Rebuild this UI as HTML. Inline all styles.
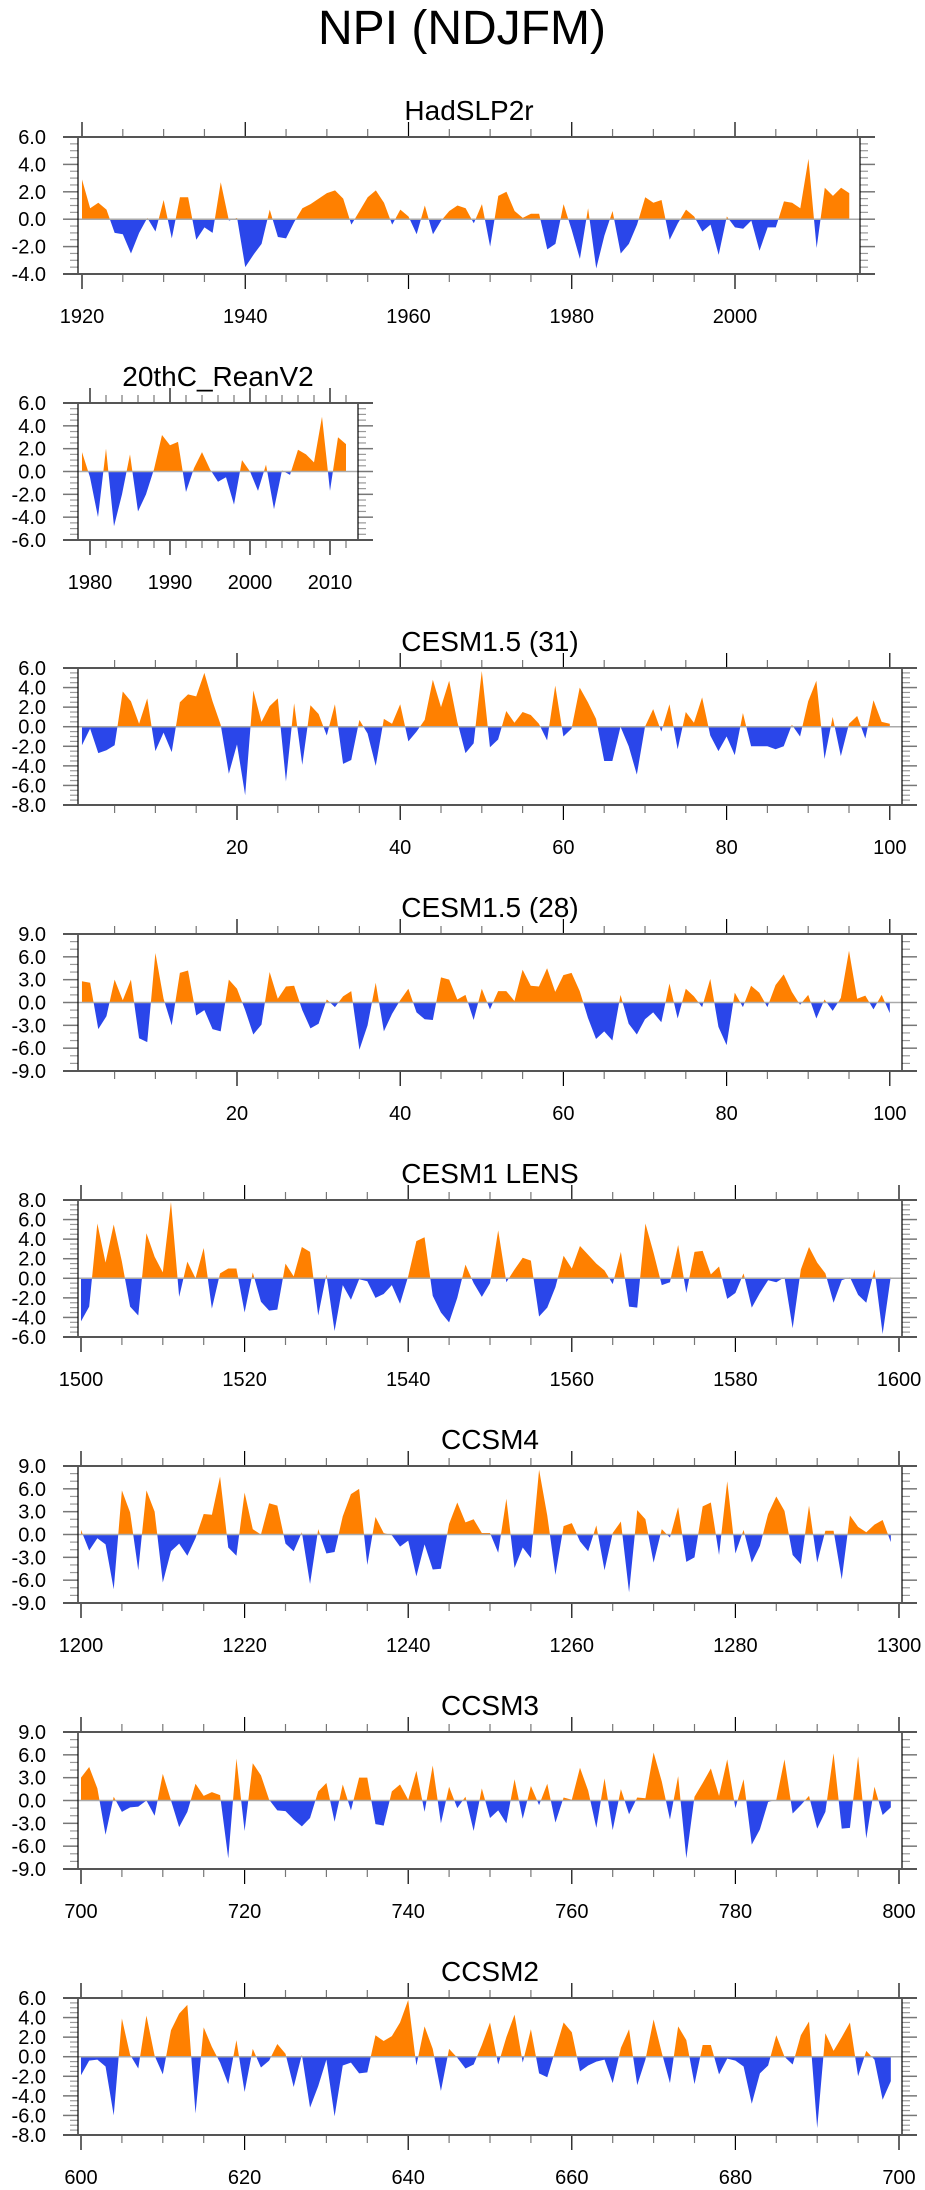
<!DOCTYPE html>
<html><head><meta charset="utf-8"><style>
body{margin:0;background:#fff;}
svg{display:block;font-family:"Liberation Sans",sans-serif;}
</style></head><body>
<svg id="chart" width="925" height="2190" viewBox="0 0 925 2190" xmlns="http://www.w3.org/2000/svg">
<rect x="0" y="0" width="925" height="2190" fill="#fff"/>
<text x="462" y="44" font-size="48" text-anchor="middle" fill="#000">NPI (NDJFM)</text>
</svg>
<script>
// ---- data ----
const hadStart = 1920;
const hadValues = [2.9,0.8,1.2,0.7,-1.0,-1.1,-2.5,-1.0,0.1,-0.9,
1.4,-1.4,1.6,1.6,-1.5,-0.6,-1.0,2.7,-0.1,0.1,
-3.5,-2.6,-1.8,0.7,-1.3,-1.4,-0.2,0.8,1.1,1.5,
1.9,2.1,1.5,-0.4,0.6,1.6,2.1,1.2,-0.4,0.7,
0.2,-1.1,1.0,-1.1,-0.1,0.6,1.0,0.8,-0.3,1.1,
-2.0,1.7,2.0,0.6,0.1,0.4,0.4,-2.2,-1.8,1.1,
-0.8,-2.9,0.8,-3.6,-1.2,0.6,-2.5,-1.8,-0.4,1.6,
1.2,1.4,-1.5,-0.3,0.7,0.2,-0.9,-0.4,-2.6,0.2,
-0.6,-0.7,-0.1,-2.3,-0.6,-0.6,1.3,1.2,0.8,4.4,
-2.1,2.3,1.7,2.3,1.9];
const reanStart = 1979;
const reanValues = [1.7,-0.5,-4.0,2.0,-4.8,-2.0,1.5,-3.5,-2.0,0.2,
3.2,2.3,2.6,-1.8,0.3,1.7,0.2,-0.9,-0.5,-2.9,
1.0,0.0,-1.7,0.6,-3.3,0.1,-0.3,1.9,1.5,0.8,
4.8,-1.7,3.0,2.4];
const c31Start = 1;
const c31Values = [-1.9,-0.2,-2.7,-2.4,-1.9,3.6,2.6,0.3,2.9,-2.5,
-0.6,-2.6,2.5,3.3,3.1,5.5,2.6,0.2,-4.8,-1.8,
-7.0,3.7,0.5,2.1,2.9,-5.6,2.4,-3.9,2.2,1.3,
-0.9,2.3,-3.8,-3.4,0.7,-0.7,-4.0,0.8,0.3,2.3,
-1.5,-0.5,0.7,4.8,2.0,4.7,0.5,-2.7,-1.7,5.7,
-2.1,-1.3,1.6,0.4,1.5,1.2,0.3,-1.4,4.2,-1.0,
-0.2,4.0,2.5,0.8,-3.5,-3.5,0.0,-2.0,-4.9,0.0,
1.8,-0.5,2.3,-2.3,1.5,0.4,3.0,-0.9,-2.5,-1.0,
-2.9,1.4,-2.0,-2.0,-2.0,-2.3,-2.0,0.2,-1.0,2.6,
4.7,-3.3,1.0,-3.0,0.3,1.1,-1.2,2.7,0.5,0.3];
const c28Start = 1;
const c28Values = [2.8,2.6,-3.5,-1.8,3.0,0.3,3.0,-4.7,-5.2,6.5,
0.5,-3.0,3.9,4.2,-1.7,-1.0,-3.5,-3.8,3.0,1.8,
-1.0,-4.2,-2.9,4.0,0.5,2.1,2.2,-1.0,-3.4,-2.8,
0.4,-0.6,0.8,1.5,-6.2,-3.0,2.6,-3.8,-1.5,0.3,
1.8,-1.3,-2.2,-2.3,3.3,3.0,0.4,1.0,-2.3,1.8,
-0.9,1.5,1.5,0.2,4.3,2.2,2.1,4.5,1.4,3.6,
3.9,1.5,-2.0,-4.8,-3.8,-5.0,1.0,-2.8,-4.2,-2.2,
-1.3,-2.6,2.5,-2.1,1.8,0.8,-0.6,3.1,-3.2,-5.6,
1.3,-0.6,2.2,1.3,-0.6,2.3,3.7,1.4,-0.3,1.0,
-2.1,0.4,-1.1,0.6,6.8,0.5,0.9,-0.9,1.0,-1.4];
const lensStart = 1500;
const lensValues = [-4.4,-2.9,5.6,1.6,5.5,1.7,-2.9,-3.8,4.6,2.2,
0.6,7.8,-1.9,1.7,0.0,3.1,-3.1,0.5,1.0,1.0,
-3.5,0.6,-2.4,-3.3,-3.2,1.5,0.2,3.2,2.7,-3.8,
0.4,-5.4,-0.7,-2.2,-0.1,-0.3,-2.0,-1.6,-0.7,-2.6,
0.2,3.8,4.2,-1.8,-3.5,-4.5,-2.0,1.4,-0.5,-1.9,
-0.5,4.9,-0.4,0.9,2.1,1.8,-3.9,-3.0,-0.9,2.3,
1.0,3.3,2.4,1.5,0.8,-0.6,2.7,-2.9,-3.0,5.6,
2.6,-0.7,-0.4,3.4,-1.5,2.7,2.8,0.4,1.2,-2.1,
-1.5,0.5,-3.0,-1.5,-0.2,-0.4,0.1,-5.1,0.9,3.2,
1.6,0.5,-2.5,-0.2,0.1,-1.7,-2.5,0.9,-5.7,0.2];
const ccsm4Start = 1200;
const ccsm4Values = [0.6,-2.1,-0.5,-1.3,-7.2,5.8,2.9,-4.7,5.8,3.0,
-6.3,-2.2,-1.2,-2.8,-0.5,2.7,2.6,7.6,-1.7,-2.8,
5.5,0.7,0.0,4.1,3.8,-1.2,-2.2,0.3,-6.5,0.7,
-2.5,-2.3,2.4,5.3,6.0,-4.0,2.3,0.2,-0.1,-1.6,
-0.8,-5.5,-1.3,-4.6,-4.5,1.4,4.2,1.6,2.0,0.2,
0.2,-2.4,4.7,-4.4,-1.7,-3.1,8.5,2.5,-5.3,1.1,
1.5,-0.9,-2.2,1.2,-4.7,0.2,1.7,-7.6,3.2,2.0,
-3.7,0.7,-0.4,3.6,-3.6,-3.0,3.7,4.2,-2.7,7.0,
-2.5,0.6,-3.7,-1.5,2.7,5.0,3.1,-2.7,-3.9,3.8,
-3.7,0.5,0.5,-5.9,2.5,1.0,0.3,1.3,1.9,-1.0];
const ccsm3Start = 700;
const ccsm3Values = [3.0,4.4,1.6,-4.5,0.5,-1.5,-0.9,-0.8,0.0,-2.0,
3.5,0.0,-3.5,-1.5,2.2,0.6,1.1,0.7,-7.6,5.5,
-4.0,4.9,3.3,0.1,-1.3,-1.4,-2.5,-3.4,-2.3,1.2,
2.3,-2.8,2.1,-1.3,3.0,3.0,-3.1,-3.3,1.2,2.1,
0.1,3.9,-1.5,4.6,-3.0,1.8,-1.0,0.5,-4.0,1.6,
-2.3,-1.3,-3.0,2.8,-2.4,1.9,-0.6,2.2,-2.9,0.4,
0.1,4.3,1.3,-3.6,2.9,-3.9,1.5,-1.8,0.4,0.3,
6.3,2.5,-2.5,3.2,-7.6,0.5,2.3,4.2,0.6,5.4,
-1.0,2.8,-5.8,-3.8,-0.2,0.1,5.4,-1.7,-0.6,0.6,
-3.7,-1.5,6.2,-3.7,-3.6,5.8,-5.0,1.8,-1.9,-0.9];
const ccsm2Start = 600;
const ccsm2Values = [-1.9,-0.4,-0.3,-1.0,-6.0,3.9,0.2,-1.2,4.2,0.1,
-1.8,2.7,4.4,5.3,-5.8,3.0,1.0,-0.6,-2.8,1.7,
-3.6,0.8,-1.1,-0.4,1.3,0.3,-3.1,0.2,-5.2,-3.0,
-0.3,-6.1,-0.9,-0.6,-1.7,-1.6,2.2,1.6,2.1,3.5,
5.8,-0.9,3.1,0.8,-3.5,0.8,-0.1,-1.2,-0.8,1.2,
3.5,-0.8,2.0,4.3,-0.6,2.8,-1.7,-2.1,0.7,3.5,
2.5,-1.5,-0.9,-0.5,-0.3,-2.7,0.9,2.8,-2.9,-0.3,
3.8,0.4,-2.7,3.1,1.7,-2.8,1.2,1.2,-1.8,-0.2,
-0.4,-1.0,-4.8,-1.7,-0.9,2.2,0.0,-0.8,2.2,3.6,
-7.3,2.4,0.6,2.0,3.5,-2.0,0.6,-0.3,-4.4,-2.5];
const yTicksA = [-4,-2,0,2,4,6];
const yTicksB = [-6,-4,-2,0,2,4,6];
const yTicksC = [-8,-6,-4,-2,0,2,4,6];
const yTicksD = [-9,-6,-3,0,3,6,9];
const yTicksE = [-6,-4,-2,0,2,4,6,8];

const NS = 'http://www.w3.org/2000/svg';
const svg = document.getElementById('chart');
function mk(tag, attrs, parent){
  const e = document.createElementNS(NS, tag);
  for (const k in attrs) e.setAttribute(k, attrs[k]);
  (parent||svg).appendChild(e);
  return e;
}
function panel(cfg){
  const g = mk('g', {});
  
  
  const top = cfg.top, bot = cfg.top + 137, L = cfg.left, R = cfg.right;
  const yMin = cfg.yt[0], yMax = cfg.yt[cfg.yt.length-1];
  const Y = v => bot - (v - yMin) / (yMax - yMin) * (bot - top);
  const X = t => cfg.x0px + (t - cfg.x0) * cfg.pxPer;
  // title
  const tt = mk('text', {x:(L+R)/2, y: top-17, 'font-size':28, 'text-anchor':'middle', fill:'#000'}, g);
  tt.textContent = cfg.title;
  
  
  // fills
  const vals = cfg.values;
  const pts = [];
  for (let i=0;i<vals.length;i++){
    const t = cfg.start + i, v = vals[i];
    if (i>0){
      const pv = vals[i-1];
      if ((pv>0 && v<0) || (pv<0 && v>0)){
        const f = pv/(pv - v);
        pts.push([t-1+f, 0]);
      }
    }
    pts.push([t, v]);
  }
  const t0 = pts[0][0], t1 = pts[pts.length-1][0];
  let pos = 'M'+X(t0)+','+Y(0), neg = pos;
  for (const p of pts){
    pos += ' L'+X(p[0]).toFixed(2)+','+Y(Math.max(p[1],0)).toFixed(2);
    neg += ' L'+X(p[0]).toFixed(2)+','+Y(Math.min(p[1],0)).toFixed(2);
  }
  pos += ' L'+X(t1)+','+Y(0)+' Z';
  neg += ' L'+X(t1)+','+Y(0)+' Z';
  const pp = mk('path', {d:pos, fill:'#ff8000'}, g);
  
  
  const np = mk('path', {d:neg, fill:'#2a46ea'}, g);
  
  
  // zero line
  const zl = mk('line', {x1:L, x2:R, y1:Y(0), y2:Y(0), stroke:'#aaa', 'stroke-width':1.5}, g);
  
  
  // y ticks
  const step = cfg.yt[1]-cfg.yt[0];
  const nMin = step===3 ? 3 : 4;
  for (let i=0;i<cfg.yt.length;i++){
    const v = cfg.yt[i], y = Y(v);
    mk('line', {x1:L-15, x2:L, y1:y, y2:y, stroke:'#777', 'stroke-width':1.5}, g);
    mk('line', {x1:R, x2:R+15, y1:y, y2:y, stroke:'#777', 'stroke-width':1.5}, g);
    const lb = mk('text', {x:L-32, y:y+7, 'font-size':20, 'text-anchor':'end', fill:'#000'}, g);
    lb.textContent = v.toFixed(1);
    
    
    if (i < cfg.yt.length-1){
      for (let k=1;k<nMin;k++){
        const ym = Y(v + step*k/nMin);
        mk('line', {x1:L-8, x2:L, y1:ym, y2:ym, stroke:'#999', 'stroke-width':1.2}, g);
        mk('line', {x1:R, x2:R+8, y1:ym, y2:ym, stroke:'#999', 'stroke-width':1.2}, g);
      }
    }
  }
  // x ticks
  for (let t=cfg.tickFrom; X(t) <= R+0.5; t += cfg.minorStep){
    if (X(t) < L-0.5) continue;
    const major = ((t - cfg.tickFrom) % cfg.majorStep) === 0;
    const len = major ? 15 : 8;
    const x = X(t);
    mk('line', {x1:x, x2:x, y1:top-len, y2:top, stroke:major?'#000':'#777', 'stroke-width':1.2}, g);
    mk('line', {x1:x, x2:x, y1:bot, y2:bot+len, stroke:major?'#000':'#777', 'stroke-width':1.2}, g);
    if (major && cfg.labelFrom <= t){
      const lb = mk('text', {x:x, y:bot+49, 'font-size':20, 'text-anchor':'middle', fill:'#000'}, g);
      lb.textContent = String(t);
      
      
    }
  }
  // frame
  mk('line', {x1:L, x2:L, y1:top, y2:bot, stroke:'#000', 'stroke-width':1.2}, g);
  mk('line', {x1:R, x2:R, y1:top, y2:bot, stroke:'#000', 'stroke-width':1.2}, g);
  mk('line', {x1:L-15, x2:R+15, y1:top, y2:top, stroke:'#555', 'stroke-width':2}, g);
  mk('line', {x1:L-15, x2:R+15, y1:bot, y2:bot, stroke:'#555', 'stroke-width':2}, g);
}

panel({name:'hadslp2r', title:'HadSLP2r', top:137, left:78, right:860, yt:yTicksA,
  values:hadValues, start:hadStart, x0:1920, x0px:82, pxPer:8.1625,
  tickFrom:1920, minorStep:5, majorStep:20, labelFrom:1920});
panel({name:'20thc-reanv2', title:'20thC_ReanV2', top:403, left:78, right:358, yt:yTicksB,
  values:reanValues, start:reanStart, x0:1980, x0px:90, pxPer:8,
  tickFrom:1980, minorStep:2, majorStep:10, labelFrom:1980});
panel({name:'cesm15-31', title:'CESM1.5 (31)', top:668, left:78, right:902, yt:yTicksC,
  values:c31Values, start:c31Start, x0:20, x0px:237, pxPer:8.16,
  tickFrom:0, minorStep:5, majorStep:20, labelFrom:20});
panel({name:'cesm15-28', title:'CESM1.5 (28)', top:934, left:78, right:902, yt:yTicksD,
  values:c28Values, start:c28Start, x0:20, x0px:237, pxPer:8.16,
  tickFrom:0, minorStep:5, majorStep:20, labelFrom:20});
panel({name:'cesm1-lens', title:'CESM1 LENS', top:1200, left:78, right:902, yt:yTicksE,
  values:lensValues, start:lensStart, x0:1500, x0px:81, pxPer:8.18,
  tickFrom:1500, minorStep:5, majorStep:20, labelFrom:1500});
panel({name:'ccsm4', title:'CCSM4', top:1466, left:78, right:902, yt:yTicksD,
  values:ccsm4Values, start:ccsm4Start, x0:1200, x0px:81, pxPer:8.18,
  tickFrom:1200, minorStep:5, majorStep:20, labelFrom:1200});
panel({name:'ccsm3', title:'CCSM3', top:1732, left:78, right:902, yt:yTicksD,
  values:ccsm3Values, start:ccsm3Start, x0:700, x0px:81, pxPer:8.18,
  tickFrom:700, minorStep:5, majorStep:20, labelFrom:700});
panel({name:'ccsm2', title:'CCSM2', top:1998, left:78, right:902, yt:yTicksC,
  values:ccsm2Values, start:ccsm2Start, x0:600, x0px:81, pxPer:8.18,
  tickFrom:600, minorStep:5, majorStep:20, labelFrom:600});
</script>
</body></html>
